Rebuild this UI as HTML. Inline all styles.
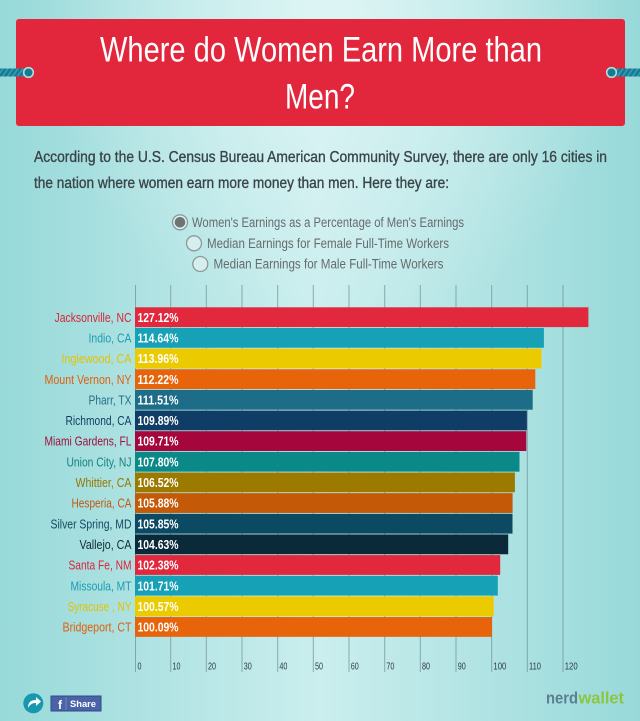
<!DOCTYPE html>
<html><head><meta charset="utf-8"><style>
html,body{margin:0;padding:0;background:#a8e0e0;}
svg{display:block;}
text{font-family:"Liberation Sans",Arial,sans-serif;}
</style></head><body>
<svg width="640" height="721" viewBox="0 0 640 721" xmlns="http://www.w3.org/2000/svg">
<defs>
<linearGradient id="bg" x1="0" y1="0" x2="1" y2="0">
<stop offset="0" stop-color="#98d9d9"/>
<stop offset="0.5" stop-color="#cbeeee"/>
<stop offset="1" stop-color="#98d9d9"/>
</linearGradient>
<radialGradient id="glow" cx="0.52" cy="0.02" r="0.45">
<stop offset="0" stop-color="#e2f6f6" stop-opacity="0.8"/>
<stop offset="1" stop-color="#e2f6f6" stop-opacity="0"/>
</radialGradient>
<pattern id="rope" width="5" height="10" patternUnits="userSpaceOnUse" patternTransform="skewX(-35)">
<rect width="5" height="10" fill="#1a7891"/>
<rect width="2" height="10" fill="#2d9fb4"/>
</pattern>
</defs>
<rect width="640" height="721" fill="url(#bg)"/>
<rect width="640" height="721" fill="url(#glow)"/>

<!-- title box -->
<rect x="16" y="19" width="609" height="107" rx="3" fill="#e2263c"/>
<!-- ropes -->
<rect x="0" y="68.5" width="30" height="8" fill="url(#rope)"/>
<circle cx="28.5" cy="72.5" r="4.8" fill="#1a7891" stroke="#a8e2e2" stroke-width="1.6"/>
<rect x="610" y="68.5" width="30" height="8" fill="url(#rope)"/>
<circle cx="611.5" cy="72.5" r="4.8" fill="#1a7891" stroke="#a8e2e2" stroke-width="1.6"/>

<text x="100" y="61.7" font-size="35" fill="#ffffff" textLength="442" lengthAdjust="spacingAndGlyphs">Where do Women Earn More than</text>
<text x="285" y="108.3" font-size="35" fill="#ffffff" textLength="70" lengthAdjust="spacingAndGlyphs">Men?</text>

<!-- subtitle -->
<text x="34" y="162" font-size="15.5" fill="#3a4549" stroke="#3a4549" stroke-width="0.35" textLength="573" lengthAdjust="spacingAndGlyphs">According to the U.S. Census Bureau American Community Survey, there are only 16 cities in</text>
<text x="34" y="188" font-size="15.5" fill="#3a4549" stroke="#3a4549" stroke-width="0.35" textLength="415" lengthAdjust="spacingAndGlyphs">the nation where women earn more money than men. Here they are:</text>

<!-- radio options -->
<circle cx="180" cy="222.3" r="7.5" fill="#dcefef" stroke="#8a9a9a" stroke-width="1.3"/>
<circle cx="180" cy="222.3" r="5.3" fill="#6e7373"/>
<text x="192" y="226.8" font-size="13.5" fill="#666b6d" textLength="272" lengthAdjust="spacingAndGlyphs">Women's Earnings as a Percentage of Men's Earnings</text>
<circle cx="194" cy="243.3" r="7.5" fill="#d6eeee" stroke="#8a9a9a" stroke-width="1.3"/>
<text x="207" y="247.8" font-size="13.5" fill="#666b6d" textLength="242" lengthAdjust="spacingAndGlyphs">Median Earnings for Female Full-Time Workers</text>
<circle cx="200.3" cy="264" r="7.5" fill="#d6eeee" stroke="#8a9a9a" stroke-width="1.3"/>
<text x="213.5" y="268.5" font-size="13.5" fill="#666b6d" textLength="230" lengthAdjust="spacingAndGlyphs">Median Earnings for Male Full-Time Workers</text>

<!-- gridlines -->
<g stroke="#6e9499" stroke-width="1" stroke-opacity="0.75">
<line x1="135.5" y1="285" x2="135.5" y2="672"/>
<line x1="170.7" y1="285" x2="170.7" y2="672"/>
<line x1="206.3" y1="285" x2="206.3" y2="672"/>
<line x1="242" y1="285" x2="242" y2="672"/>
<line x1="277.7" y1="285" x2="277.7" y2="672"/>
<line x1="313.3" y1="285" x2="313.3" y2="672"/>
<line x1="349" y1="285" x2="349" y2="672"/>
<line x1="384.7" y1="285" x2="384.7" y2="672"/>
<line x1="420.3" y1="285" x2="420.3" y2="672"/>
<line x1="456" y1="285" x2="456" y2="672"/>
<line x1="491.7" y1="285" x2="491.7" y2="672"/>
<line x1="527.3" y1="285" x2="527.3" y2="672"/>
<line x1="563" y1="285" x2="563" y2="672"/>
</g>

<!-- tick labels -->
<g font-size="10" fill="#2e3d45">
<text x="137.5" y="669.5" textLength="4" lengthAdjust="spacingAndGlyphs">0</text>
<text x="172.5" y="669.5" textLength="8" lengthAdjust="spacingAndGlyphs">10</text>
<text x="208" y="669.5" textLength="8" lengthAdjust="spacingAndGlyphs">20</text>
<text x="243.7" y="669.5" textLength="8" lengthAdjust="spacingAndGlyphs">30</text>
<text x="279.4" y="669.5" textLength="8" lengthAdjust="spacingAndGlyphs">40</text>
<text x="315" y="669.5" textLength="8" lengthAdjust="spacingAndGlyphs">50</text>
<text x="350.7" y="669.5" textLength="8" lengthAdjust="spacingAndGlyphs">60</text>
<text x="386.4" y="669.5" textLength="8" lengthAdjust="spacingAndGlyphs">70</text>
<text x="422" y="669.5" textLength="8" lengthAdjust="spacingAndGlyphs">80</text>
<text x="457.7" y="669.5" textLength="8" lengthAdjust="spacingAndGlyphs">90</text>
<text x="493.4" y="669.5" textLength="13" lengthAdjust="spacingAndGlyphs">100</text>
<text x="529" y="669.5" textLength="12" lengthAdjust="spacingAndGlyphs">110</text>
<text x="564.7" y="669.5" textLength="13" lengthAdjust="spacingAndGlyphs">120</text>
</g>

<!-- bars -->
<g>
<rect x="135" y="307.3" width="453.4" height="19.8" fill="#e1283d"/>
<rect x="135" y="327.95" width="408.9" height="19.8" fill="#16a1b6"/>
<rect x="135" y="348.6" width="406.5" height="19.8" fill="#ebcb00"/>
<rect x="135" y="369.25" width="400.3" height="19.8" fill="#e8640b"/>
<rect x="135" y="389.9" width="397.7" height="19.8" fill="#1d6d88"/>
<rect x="135" y="410.55" width="391.9" height="19.8" fill="#0f3d66"/>
<rect x="135" y="431.2" width="391.3" height="19.8" fill="#a5063b"/>
<rect x="135" y="451.85" width="384.5" height="19.8" fill="#0b8988"/>
<rect x="135" y="472.5" width="379.9" height="19.8" fill="#9c7a00"/>
<rect x="135" y="493.15" width="377.6" height="19.8" fill="#c45907"/>
<rect x="135" y="513.8" width="377.5" height="19.8" fill="#0c4963"/>
<rect x="135" y="534.45" width="373.2" height="19.8" fill="#0a2a3a"/>
<rect x="135" y="555.1" width="365.2" height="19.8" fill="#e1283d"/>
<rect x="135" y="575.75" width="362.8" height="19.8" fill="#16a1b6"/>
<rect x="135" y="596.4" width="358.7" height="19.8" fill="#ebcb00"/>
<rect x="135" y="617.05" width="357" height="19.8" fill="#e8640b"/>
</g>

<!-- percent labels -->
<g font-size="13" font-weight="bold" fill="#ffffff">
<text x="137.5" y="321.8" textLength="41" lengthAdjust="spacingAndGlyphs">127.12%</text>
<text x="137.5" y="342.45" textLength="41" lengthAdjust="spacingAndGlyphs">114.64%</text>
<text x="137.5" y="363.1" textLength="41" lengthAdjust="spacingAndGlyphs">113.96%</text>
<text x="137.5" y="383.75" textLength="41" lengthAdjust="spacingAndGlyphs">112.22%</text>
<text x="137.5" y="404.4" textLength="41" lengthAdjust="spacingAndGlyphs">111.51%</text>
<text x="137.5" y="425.05" textLength="41" lengthAdjust="spacingAndGlyphs">109.89%</text>
<text x="137.5" y="445.7" textLength="41" lengthAdjust="spacingAndGlyphs">109.71%</text>
<text x="137.5" y="466.35" textLength="41" lengthAdjust="spacingAndGlyphs">107.80%</text>
<text x="137.5" y="487" textLength="41" lengthAdjust="spacingAndGlyphs">106.52%</text>
<text x="137.5" y="507.65" textLength="41" lengthAdjust="spacingAndGlyphs">105.88%</text>
<text x="137.5" y="528.3" textLength="41" lengthAdjust="spacingAndGlyphs">105.85%</text>
<text x="137.5" y="548.95" textLength="41" lengthAdjust="spacingAndGlyphs">104.63%</text>
<text x="137.5" y="569.6" textLength="41" lengthAdjust="spacingAndGlyphs">102.38%</text>
<text x="137.5" y="590.25" textLength="41" lengthAdjust="spacingAndGlyphs">101.71%</text>
<text x="137.5" y="610.9" textLength="41" lengthAdjust="spacingAndGlyphs">100.57%</text>
<text x="137.5" y="631.55" textLength="41" lengthAdjust="spacingAndGlyphs">100.09%</text>
</g>

<!-- city labels -->
<g font-size="13" text-anchor="end">
<text x="131.5" y="321.8" fill="#d9243a" textLength="77" lengthAdjust="spacingAndGlyphs">Jacksonville, NC</text>
<text x="131.5" y="342.45" fill="#1b9db2" textLength="43" lengthAdjust="spacingAndGlyphs">Indio, CA</text>
<text x="131.5" y="363.1" fill="#e3c200" textLength="70" lengthAdjust="spacingAndGlyphs">Inglewood, CA</text>
<text x="131.5" y="383.75" fill="#e0600c" textLength="87" lengthAdjust="spacingAndGlyphs">Mount Vernon, NY</text>
<text x="131.5" y="404.4" fill="#276f88" textLength="43" lengthAdjust="spacingAndGlyphs">Pharr, TX</text>
<text x="131.5" y="425.05" fill="#133f62" textLength="66" lengthAdjust="spacingAndGlyphs">Richmond, CA</text>
<text x="131.5" y="445.7" fill="#a0103d" textLength="87" lengthAdjust="spacingAndGlyphs">Miami Gardens, FL</text>
<text x="131.5" y="466.35" fill="#128483" textLength="65" lengthAdjust="spacingAndGlyphs">Union City, NJ</text>
<text x="131.5" y="487" fill="#977700" textLength="56" lengthAdjust="spacingAndGlyphs">Whittier, CA</text>
<text x="131.5" y="507.65" fill="#c05a10" textLength="60" lengthAdjust="spacingAndGlyphs">Hesperia, CA</text>
<text x="131.5" y="528.3" fill="#124a62" textLength="81" lengthAdjust="spacingAndGlyphs">Silver Spring, MD</text>
<text x="131.5" y="548.95" fill="#0e2a38" textLength="52" lengthAdjust="spacingAndGlyphs">Vallejo, CA</text>
<text x="131.5" y="569.6" fill="#d9243a" textLength="63" lengthAdjust="spacingAndGlyphs">Santa Fe, NM</text>
<text x="131.5" y="590.25" fill="#1b9db2" textLength="61" lengthAdjust="spacingAndGlyphs">Missoula, MT</text>
<text x="131.5" y="610.9" fill="#e3c200" textLength="64" lengthAdjust="spacingAndGlyphs">Syracuse , NY</text>
<text x="131.5" y="631.55" fill="#e0600c" textLength="69" lengthAdjust="spacingAndGlyphs">Bridgeport, CT</text>
</g>

<!-- share icons -->
<circle cx="33.3" cy="703.3" r="10" fill="#1798ae"/>
<path d="M28 708 C28 702 31 700 36 700 L36 697 L41 701.5 L36 706 L36 703 C32 703 30 704.5 28 708 Z" fill="#ffffff"/>
<rect x="51" y="696" width="50" height="15" fill="#4a63a6" stroke="#33488a" stroke-width="1"/>
<line x1="66" y1="697" x2="66" y2="710" stroke="#6d84be" stroke-width="1"/>
<text x="58" y="709" font-size="12" font-weight="bold" fill="#ffffff">f</text>
<text x="70" y="707" font-size="9" font-weight="bold" fill="#ffffff" textLength="26" lengthAdjust="spacingAndGlyphs">Share</text>

<!-- nerdwallet logo -->
<text x="546" y="703.5" font-size="17" font-weight="bold" fill="#5b7f92" textLength="32" lengthAdjust="spacingAndGlyphs">nerd</text>
<text x="578.5" y="703.5" font-size="17" font-weight="bold" fill="#8cc540" textLength="45.5" lengthAdjust="spacingAndGlyphs">wallet</text>
</svg>
</body></html>
